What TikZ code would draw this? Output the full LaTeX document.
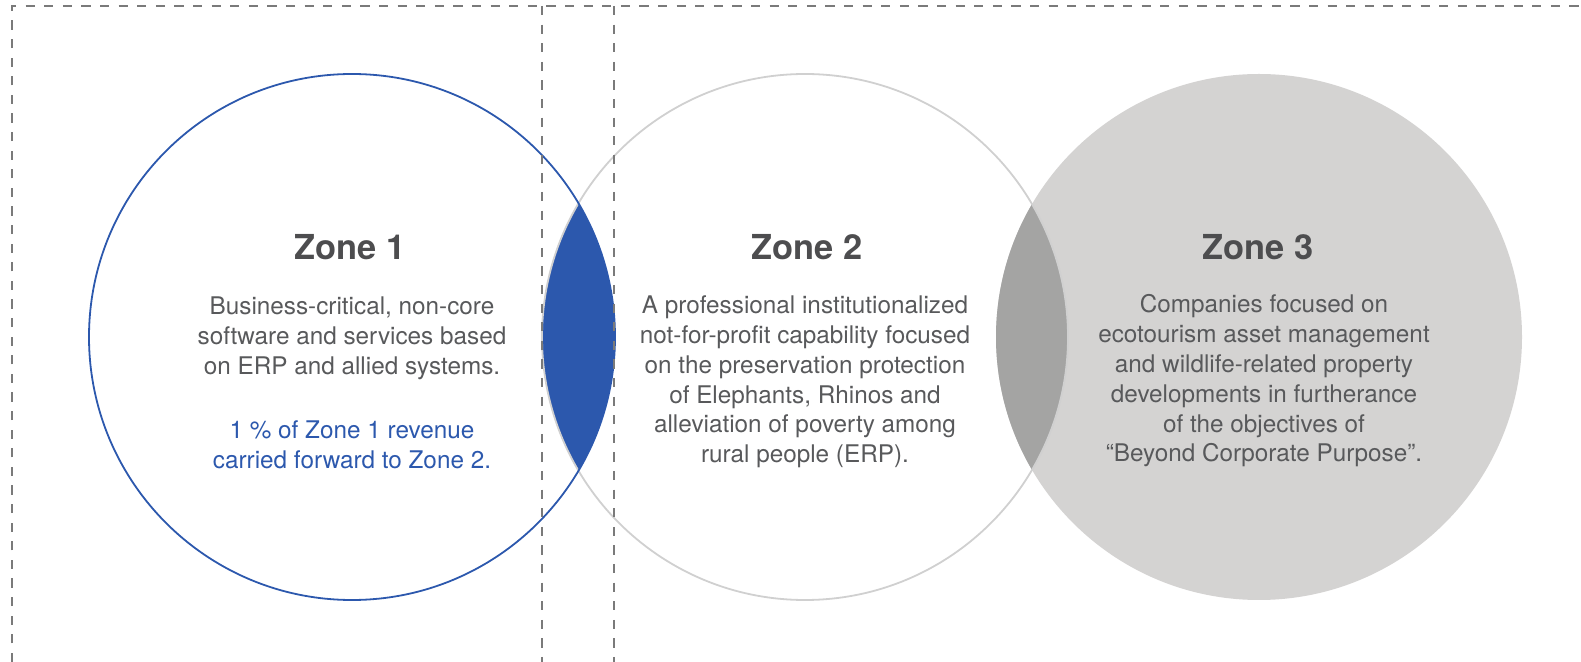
\documentclass[tikz,border=0pt]{standalone}
\usepackage{fontspec}
\setmainfont{TeX Gyre Heros}
\usetikzlibrary{positioning}
\definecolor{zoneblue}{HTML}{2C58AD}
\definecolor{zonegrey}{HTML}{D4D3D2}
\definecolor{lensgrey}{HTML}{A4A4A3}
\definecolor{ringgrey}{HTML}{D0D0D0}
\definecolor{textgrey}{HTML}{58595B}
\definecolor{titlegrey}{HTML}{4D4D4F}
\definecolor{dashgrey}{HTML}{7A7A7A}
\tikzset{
  frame/.style    = {draw=dashgrey, line width=1pt, dash pattern=on 4.6pt off 4.7pt},
  ring/.style     = {line width=0.9pt},
  zonetitle/.style = {font=\fontsize{17.2}{20}\selectfont\bfseries, text=titlegrey,
                     anchor=base, inner sep=0pt},
  zonebody/.style  = {font=\fontsize{12.15}{14.9}\selectfont, text=textgrey,
                     align=center, inner sep=0pt}
}

\begin{document}
\begin{tikzpicture}[x=0.5pt,y=-0.5pt]
\useasboundingbox (0,0) rectangle (1581,662);
\coordinate (z1) at (352,337);
\coordinate (z2) at (805,337);
\coordinate (z3) at (1259,337);

\fill[zonegrey] (z3) circle[radius=263];
\begin{scope}
  \clip (z1) circle[radius=263];
  \fill[zoneblue] (z2) circle[radius=263];
\end{scope}
\begin{scope}
  \clip (z2) circle[radius=263];
  \fill[lensgrey] (z3) circle[radius=263];
\end{scope}
\draw[ring, ringgrey] (z2) circle[radius=263];
\draw[ring, zoneblue] (z1) circle[radius=263];

\draw[frame] (12,662) -- (12,6) -- (1581,6);
\draw[frame] (542,6) -- (542,662);
\draw[frame] (614,6) -- (614,662);

\node[zonetitle] (t1) at (350,260) {Zone 1};
\node[zonebody] (b1) at (352,338) {Business-critical, non-core\\software and services based\\on ERP and allied systems.};
\node[zonebody, text=zoneblue] (n1) at (352,445) {1 \% of Zone 1 revenue\\carried forward to Zone 2.};

\node[zonetitle] (t2) at (807,260) {Zone 2};
\node[zonebody] (b2) at (805,382) {A professional institutionalized\\not-for-profit capability focused\\on the preservation protection\\of Elephants, Rhinos and\\alleviation of poverty among\\rural people (ERP).};

\node[zonetitle] (t3) at (1258,260) {Zone 3};
\node[zonebody] (b3) at (1264,381) {Companies focused on\\ecotourism asset management\\and wildlife-related property\\developments in furtherance\\of the objectives of\\“Beyond Corporate Purpose”.};
\end{tikzpicture}
\end{document}
